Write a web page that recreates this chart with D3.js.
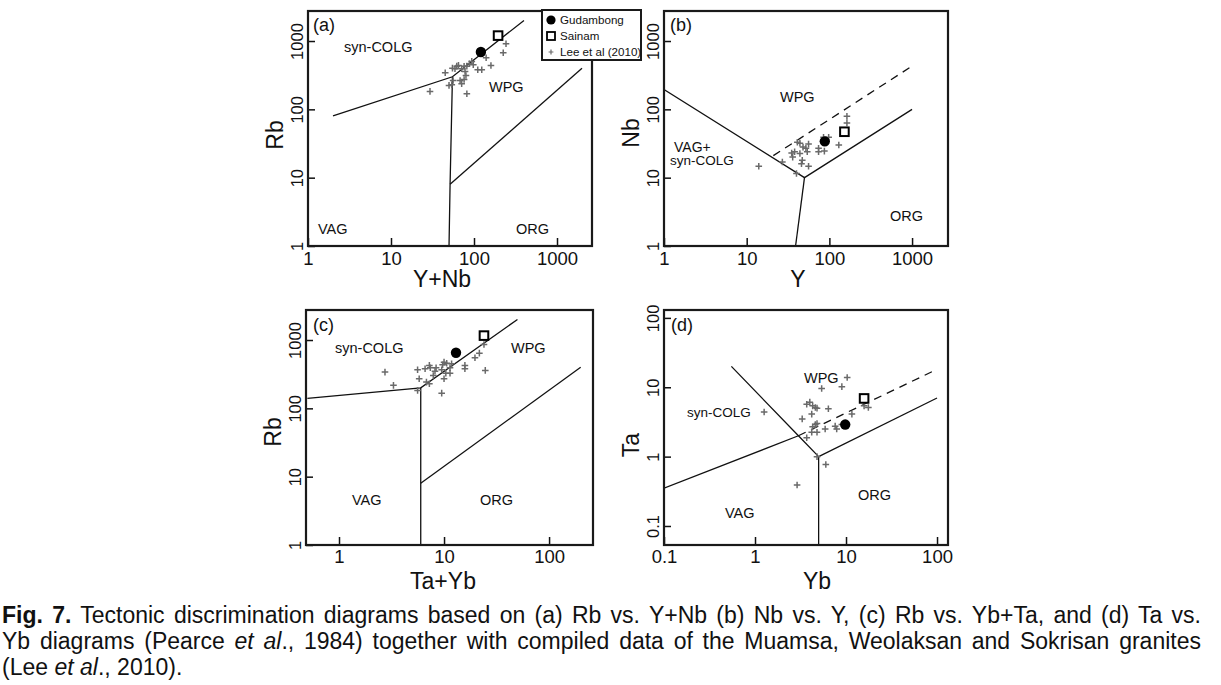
<!DOCTYPE html>
<html>
<head>
<meta charset="utf-8">
<script src="https://cdn.jsdelivr.net/npm/d3@7"></script>
<style>
  html, body { margin: 0; padding: 0; background: #fff; }
  svg { display: block; }
  text { font-family: "Liberation Sans", Arial, Helvetica, sans-serif; fill: #111; }
</style>
</head>
<body>
<svg id="chart" width="1221" height="685"></svg>
<script>
// ---------------- DATA ----------------
// (a) Rb vs Y+Nb
const leeA = [[243,910],[225,673],[140,569],[160,439],[111,380],[124,380],[94,503],[88,464],[98,449],[82,429],[76,427],[71,393],[62,429],[65,440],[59,393],[55,401],[45,343],[78,359],[80,313],[76,274],[68,265],[71,237],[56,265],[54,229],[50,224],[82,169],[29.5,183]];
const gudA = [[121,690]];
const saiA = [[195,1200]];
const bndA = [[[2,80],[55,300],[400,2000]], [[55,300],[51.5,8],[50,1]], [[51.5,8],[2000,400]]];
const dashA = [];
// (b) Nb vs Y
const leeB = [[163,79],[163,63],[130,30],[98,39],[85,39],[74,27],[74,24],[87,24.5],[56,31],[52,27],[54,24],[48,28],[44,32],[44,22.6],[38,24],[35,23],[36,20],[47,18],[46,16],[56,14.7],[27,17],[40,11.5],[14,14.7],[41,33]];
const gudB = [[88,34]];
const saiB = [[152,47]];
const bndB = [[[1,195],[50,10],[1000,100]], [[50,10],[39,1]]];
const dashB = [[[21,21],[1000,430]]];
// (c) Rb vs Ta+Yb
const leeC = [[24,860],[21.7,642],[19.7,550],[24.7,359],[15.8,425],[15.8,380],[11.4,393],[11.4,327],[10.6,458],[9.7,434],[10,474],[11.8,449],[9.5,367],[10.4,327],[8.4,393],[8.2,350],[7.25,425],[7.4,393],[6.6,380],[5.6,367],[7.9,303],[5.8,271],[6.8,242],[7.25,229],[10,271],[9.5,167],[3.3,217],[2.74,339],[5.6,183]];
const gudC = [[13,650]];
const saiC = [[24,1160]];
const bndC = [[[0.5,140],[6,200],[50,2000]], [[6,200],[6,1]], [[6,8],[200,400]]];
const dashC = [];
// (d) Ta vs Yb
const leeD = [[10.3,13.8],[9,10.2],[5.4,9.6],[17.6,5.1],[15.8,5.4],[6.4,4.9],[11.6,4.1],[4.0,6.1],[3.7,5.7],[4.3,5.4],[4.6,5.1],[4.8,5.0],[4.2,4.1],[3.3,3.5],[4.6,2.9],[4.8,3.0],[4.3,2.7],[5.9,2.5],[7.6,2.75],[7.9,2.5],[9.0,2.9],[4.2,2.25],[4.8,2.25],[3.7,1.87],[4.8,1.0],[6.0,0.77],[1.26,4.4],[2.9,0.39]];
const gudD = [[9.8,2.9]];
const saiD = [[15.8,6.9]];
const bndD = [[[0.1,0.35],[3,2]], [[0.55,20],[3,2],[5,1]], [[5,1],[5,0.01]], [[5,1],[100,7]]];
const dashD = [[[3,2],[90,17]]];

// tick values
const ticksXA = [1,10,100,1000], ticksYA = [1,10,100,1000];
const ticksXB = [1,10,100,1000], ticksYB = [1,10,100,1000];
const ticksXC = [1,10,100],      ticksYC = [1,10,100,1000];
const ticksXD = [0.1,1,10,100],  ticksYD = [0.1,1,10,100];

const legendItems = ["Gudambong", "Sainam", "Lee et al (2010)"];

const captionLines = [
  [{t:"Fig. 7.", w:"bold"}, {t:" Tectonic discrimination diagrams based on (a) Rb vs. Y+Nb (b) Nb vs. Y, (c) Rb vs. Yb+Ta, and (d) Ta vs."}],
  [{t:"Yb diagrams (Pearce "}, {t:"et al", s:"italic"}, {t:"., 1984) together with compiled data of the Muamsa, Weolaksan and Sokrisan granites"}],
  [{t:"(Lee "}, {t:"et al", s:"italic"}, {t:"., 2010)."}]
];

// ---------------- LAYOUT ----------------
const panels = [
  {id:"a", L:308, R:592, T:11, B:246, xd:[1,2640], yd:[1,2750], lee:leeA, gud:gudA, sai:saiA, bnd:bndA, dash:dashA,
   tx:ticksXA, ty:ticksYA, xt:"Y+Nb", yt:"Rb", xtX:442, ytY:135, tkY:19, ttY:41,
   labels:[["(a)",313,31,18],["syn-COLG",344,52,14.5],["WPG",489,92,14.5],["VAG",318,234,14.5],["ORG",516,234,14.5]]},
  {id:"b", L:664, R:948, T:11, B:246, xd:[1,2720], yd:[1,2750], lee:leeB, gud:gudB, sai:saiB, bnd:bndB, dash:dashB,
   tx:ticksXB, ty:ticksYB, xt:"Y", yt:"Nb", xtX:798, ytY:133, tkY:19, ttY:41,
   labels:[["(b)",670,31,18],["WPG",780,102,14.5],["VAG+",674,152,14],["syn-COLG",670,165,13.5],["ORG",890,221,14.5]]},
  {id:"c", L:306, R:593, T:310, B:545, xd:[0.485,262], yd:[1,2750], lee:leeC, gud:gudC, sai:saiC, bnd:bndC, dash:dashC,
   tx:ticksXC, ty:ticksYC, xt:"Ta+Yb", yt:"Rb", xtX:443, ytY:432, tkY:18, ttY:44,
   labels:[["(c)",313,331,18],["syn-COLG",335,353,14.5],["WPG",511,353,14.5],["VAG",352,505,14.5],["ORG",480,505,14.5]]},
  {id:"d", L:664, R:948, T:310, B:545, xd:[0.1,132], yd:[0.0532,130], lee:leeD, gud:gudD, sai:saiD, bnd:bndD, dash:dashD,
   tx:ticksXD, ty:ticksYD, xt:"Yb", yt:"Ta", xtX:817, ytY:445, tkY:18, ttY:44,
   labels:[["(d)",671,331,18],["WPG",804,383,14.5],["syn-COLG",687,417,13.5],["VAG",725,518,14.5],["ORG",858,500,14.5]]}
];

const svg = d3.select("#chart");
const fmt = d => String(d);
const plusPath = "M-3.3,0H3.3M0,-3.3V3.3";

panels.forEach(p => {
  const x = d3.scaleLog().domain(p.xd).range([p.L, p.R]);
  const y = d3.scaleLog().domain(p.yd).range([p.B, p.T]);
  const g = svg.append("g");

  const clipId = "clip-" + p.id;
  g.append("clipPath").attr("id", clipId).append("rect")
    .attr("x", p.L).attr("y", p.T).attr("width", p.R - p.L).attr("height", p.B - p.T);

  const line = d3.line().x(d => x(d[0])).y(d => y(d[1]));
  const inner = g.append("g").attr("clip-path", `url(#${clipId})`);
  inner.selectAll("path.bnd").data(p.bnd).join("path").attr("class","bnd")
    .attr("d", line).attr("fill","none").attr("stroke","#111").attr("stroke-width",1.3);
  inner.selectAll("path.dash").data(p.dash).join("path").attr("class","dash")
    .attr("d", line).attr("fill","none").attr("stroke","#111").attr("stroke-width",1.3)
    .attr("stroke-dasharray","8,6");

  // Lee et al points
  inner.selectAll("path.lee").data(p.lee).join("path").attr("class","lee")
    .attr("transform", d => `translate(${x(d[0])},${y(d[1])})`)
    .attr("d", plusPath).attr("stroke","#6a6a6a").attr("stroke-width",1.5).attr("fill","none");
  // Gudambong
  inner.selectAll("circle.gud").data(p.gud).join("circle").attr("class","gud")
    .attr("cx", d => x(d[0])).attr("cy", d => y(d[1])).attr("r", 5.2).attr("fill","#000");
  // Sainam
  inner.selectAll("rect.sai").data(p.sai).join("rect").attr("class","sai")
    .attr("x", d => x(d[0]) - 4.3).attr("y", d => y(d[1]) - 4.3)
    .attr("width", 8.6).attr("height", 8.6).attr("fill","#fff").attr("stroke","#000").attr("stroke-width",2);

  // axes
  const ax = g.append("g").attr("transform", `translate(0,${p.B})`)
    .call(d3.axisBottom(x).tickValues(p.tx).tickFormat(fmt).tickSize(-8).tickPadding(0));
  ax.select(".domain").remove();
  ax.selectAll(".tick line").attr("stroke","#111").attr("stroke-width",1.5);
  ax.selectAll(".tick text").attr("y", p.tkY).attr("dy", 0)
    .style("font-size","18.5px").attr("fill","#111");

  const ay = g.append("g").attr("transform", `translate(${p.L},0)`)
    .call(d3.axisLeft(y).tickValues(p.ty).tickFormat(fmt).tickSize(-7).tickPadding(0));
  ay.select(".domain").remove();
  ay.selectAll(".tick line").attr("stroke","#111").attr("stroke-width",1.5);
  ay.selectAll(".tick text").attr("x", 0).attr("y", -5).attr("dy", 0)
    .attr("transform","rotate(-90)").attr("text-anchor","middle")
    .style("font-size","16.5px").attr("fill","#111");

  // frame
  g.append("rect").attr("x", p.L).attr("y", p.T).attr("width", p.R - p.L).attr("height", p.B - p.T)
    .attr("fill","none").attr("stroke","#1a1a1a").attr("stroke-width",2.2);

  // titles
  g.append("text").attr("x", p.xtX).attr("y", p.B + p.ttY).attr("text-anchor","middle")
    .style("font-size","23px").text(p.xt);
  g.append("text").attr("transform", `translate(${p.L - 25},${p.ytY}) rotate(-90)`)
    .attr("text-anchor","middle").style("font-size","23px").text(p.yt);

  // region labels
  g.selectAll("text.lab").data(p.labels).join("text").attr("class","lab")
    .attr("x", d => d[1]).attr("y", d => d[2]).style("font-size", d => d[3] + "px").text(d => d[0]);
});

// ---------------- LEGEND ----------------
const lg = svg.append("g");
lg.append("rect").attr("x", 542).attr("y", 10).attr("width", 99).attr("height", 50)
  .attr("fill","#fff").attr("stroke","#1a1a1a").attr("stroke-width",2);
const legY = d3.scalePoint().domain(legendItems).range([20, 52]);
lg.append("circle").attr("cx", 551).attr("cy", legY(legendItems[0])).attr("r", 4.6).attr("fill","#000");
lg.append("rect").attr("x", 547).attr("y", legY(legendItems[1]) - 4).attr("width", 8).attr("height", 8)
  .attr("fill","#fff").attr("stroke","#000").attr("stroke-width",1.8);
lg.append("path").attr("transform", `translate(551,${legY(legendItems[2])})`)
  .attr("d","M-2.4,0H2.4M0,-2.4V2.4").attr("stroke","#6a6a6a").attr("stroke-width",1.2);
lg.selectAll("text.leg").data(legendItems).join("text").attr("class","leg")
  .attr("x", 560).attr("y", d => legY(d) + 4.3).style("font-size","11.6px").text(d => d);

// ---------------- CAPTION ----------------
const capBase = [623, 649, 675];
const capLeft = 2, capRight = 1201;
captionLines.forEach((ln, i) => {
  const t = svg.append("text").attr("x", capLeft).attr("y", capBase[i])
    .style("font-size","23px").attr("xml:space","preserve").style("white-space","pre");
  ln.forEach(seg => {
    const ts = t.append("tspan").text(seg.t);
    if (seg.w) ts.style("font-weight", seg.w);
    if (seg.s) ts.style("font-style", seg.s);
  });
  if (i < captionLines.length - 1) {
    const full = ln.map(s => s.t).join("");
    const nSp = (full.match(/ /g) || []).length;
    const len = t.node().getComputedTextLength();
    const ws = (capRight - capLeft - len) / nSp;
    t.style("word-spacing", ws + "px");
  }
});
</script>
</body>
</html>
